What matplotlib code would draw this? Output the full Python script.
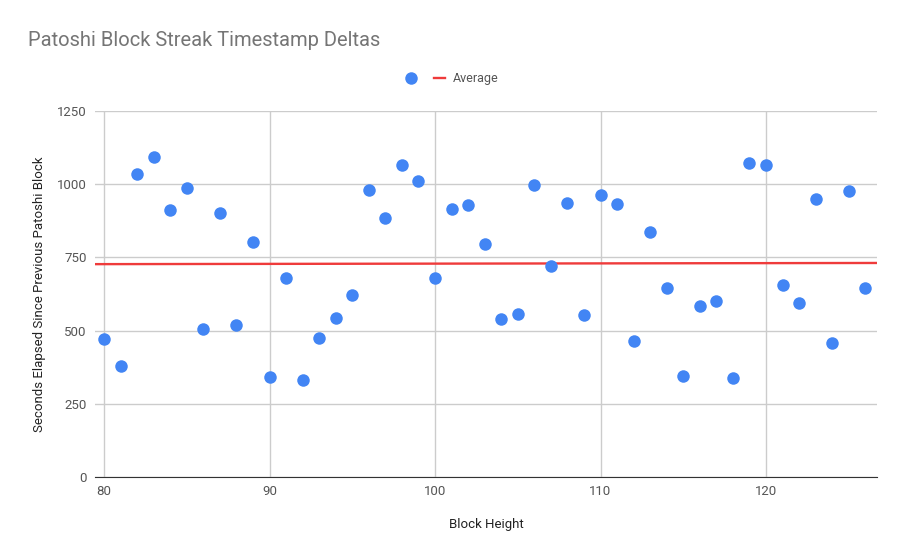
import numpy as np
from matplotlib import pyplot as plt

plt.rcParams['font.family'] = ['Roboto', 'DejaVu Sans']

######## Datos

block_height = np.arange(80, 127)
seconds = [471, 379, 1035, 1093, 912, 987, 505, 902, 519, 803,
           341, 680, 331, 475, 543, 622, 980, 885, 1066, 1011,
           680, 915, 929, 796, 540, 557, 997, 721, 936, 553,
           963, 932, 464, 837, 645, 345, 584, 601, 338, 1072,
           1066, 656, 594, 949, 458, 977, 645]

avg_x = [79.45, 126.7]
avg_y = [727, 731]

y_ticks = [0, 250, 500, 750, 1000, 1250]
x_ticks = [80, 90, 100, 110, 120]

######## Grafica

fig = plt.figure(figsize=(9.04, 5.59), dpi=100)
ax = fig.add_axes([0.105, 0.1467, 0.865, 0.6547])

ax.plot(avg_x, avg_y, color='#ef3b3b', lw=1.7, zorder=2, label='Average')
ax.plot(block_height, seconds, 'o', color='#4285f4', ms=9, mec='none',
        zorder=3, label=' ')

ax.set_xlim(79.45, 126.7)
ax.set_ylim(0, 1250)
ax.set_xticks(x_ticks)
ax.set_yticks(y_ticks)
ax.grid(True, color='#cccccc', lw=1)
ax.set_axisbelow(True)
for s in ['top', 'right', 'left']:
    ax.spines[s].set_visible(False)
ax.spines['bottom'].set_color('#333333')
ax.tick_params(length=0, colors='#555555', labelsize=9.5, pad=6)

ax.set_xlabel('Block Height', fontsize=9.5, color='#222222', labelpad=14)
ax.set_ylabel('Seconds Elapsed Since Previous Patoshi Block', fontsize=9.5,
              color='#222222', labelpad=8)

fig.text(0.031, 0.928, 'Patoshi Block Streak Timestamp Deltas', fontsize=14.5,
         color='#757575', va='center')

h, l = ax.get_legend_handles_labels()
leg = fig.legend([h[1], h[0]], ['', 'Average'], loc='center',
                 bbox_to_anchor=(0.5, 0.859), ncol=2, frameon=False,
                 fontsize=9, handlelength=0.9, columnspacing=0.8,
                 handletextpad=0.6)
for t in leg.get_texts():
    t.set_color('#555555')

plt.savefig('out.png')
